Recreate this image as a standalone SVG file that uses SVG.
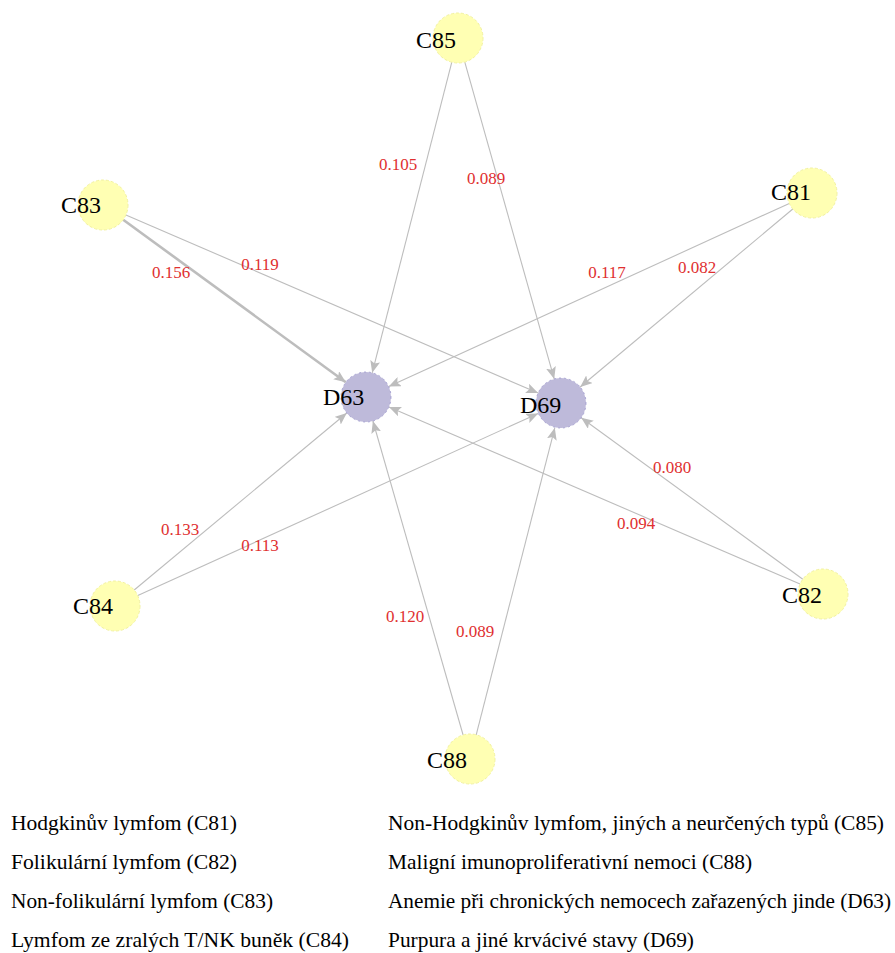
<svg xmlns="http://www.w3.org/2000/svg" width="895" height="953" viewBox="0 0 895 953">
<style>
.e{stroke:#bdbdbd;stroke-width:1.1;fill:none;marker-end:url(#ah)}
.thick{stroke-width:2.6}
.ew{font-family:'Liberation Serif','Times New Roman',serif;font-size:17px;fill:#e03030;text-anchor:middle}
.cn{fill:#ffffb3;stroke:#f2f2a0;stroke-width:1;stroke-dasharray:3 2}
.dn{fill:#bebada;stroke:#9a96cc;stroke-width:0.8;stroke-dasharray:2 3}
.nl{font-family:'Liberation Serif','Times New Roman',serif;font-size:24px;fill:#000}
.lg{font-family:'Liberation Serif','Times New Roman',serif;font-size:21px;fill:#000}
</style>
<defs>
<marker id="ah" markerUnits="userSpaceOnUse" markerWidth="13" markerHeight="10" refX="12" refY="5" orient="auto">
<path d="M0,0 L12,5 L0,10 L2.5,5 Z" fill="#bdbdbd"/>
</marker>
</defs>
<g id="connectors">
<line class="e" x1="451.8" y1="62.2" x2="372.2" y2="372.8"/>
<line class="e" x1="464.8" y1="62.1" x2="554.2" y2="378.9"/>
<line class="e thick" x1="123.2" y1="219.7" x2="345.8" y2="382.3"/>
<line class="e" x1="125.9" y1="214.9" x2="538.1" y2="393.1"/>
<line class="e" x1="789.3" y1="203.4" x2="388.7" y2="386.6"/>
<line class="e" x1="792.8" y1="209.0" x2="580.2" y2="387.0"/>
<line class="e" x1="134.2" y1="590.0" x2="346.8" y2="413.0"/>
<line class="e" x1="137.8" y1="595.6" x2="538.2" y2="413.4"/>
<line class="e" x1="800.0" y1="584.1" x2="389.0" y2="406.9"/>
<line class="e" x1="802.8" y1="579.3" x2="581.2" y2="417.7"/>
<line class="e" x1="463.1" y1="735.0" x2="372.9" y2="421.0"/>
<line class="e" x1="476.2" y1="734.8" x2="554.8" y2="427.8"/>
<text class="ew" x="398" y="170">0.105</text>
<text class="ew" x="486" y="184">0.089</text>
<text class="ew" x="171" y="278">0.156</text>
<text class="ew" x="260" y="270">0.119</text>
<text class="ew" x="607" y="278">0.117</text>
<text class="ew" x="697" y="273">0.082</text>
<text class="ew" x="180" y="535">0.133</text>
<text class="ew" x="260" y="551">0.113</text>
<text class="ew" x="636" y="529">0.094</text>
<text class="ew" x="672" y="473">0.080</text>
<text class="ew" x="405" y="622">0.120</text>
<text class="ew" x="475" y="637">0.089</text>
</g>
<g id="C85"><circle class="cn" cx="458" cy="38" r="25"/><text class="nl" x="416" y="48">C85</text></g>
<g id="C83"><circle class="cn" cx="103" cy="205" r="25"/><text class="nl" x="61" y="213">C83</text></g>
<g id="C81"><circle class="cn" cx="812" cy="193" r="25"/><text class="nl" x="771" y="200">C81</text></g>
<g id="D63"><circle class="dn" cx="366" cy="397" r="25"/><text class="nl" x="323" y="405">D63</text></g>
<g id="D69"><circle class="dn" cx="561" cy="403" r="25"/><text class="nl" x="520" y="413">D69</text></g>
<g id="C84"><circle class="cn" cx="115" cy="606" r="25"/><text class="nl" x="73" y="614">C84</text></g>
<g id="C82"><circle class="cn" cx="823" cy="594" r="25"/><text class="nl" x="782" y="603">C82</text></g>
<g id="C88"><circle class="cn" cx="470" cy="759" r="25"/><text class="nl" x="427" y="768">C88</text></g>
<g id="legend">
<text class="lg" x="11" y="830" textLength="226" lengthAdjust="spacingAndGlyphs">Hodgkinův lymfom (C81)</text>
<text class="lg" x="11" y="869" textLength="226" lengthAdjust="spacingAndGlyphs">Folikulární lymfom (C82)</text>
<text class="lg" x="11" y="908" textLength="262" lengthAdjust="spacingAndGlyphs">Non-folikulární lymfom (C83)</text>
<text class="lg" x="11" y="947" textLength="338" lengthAdjust="spacingAndGlyphs">Lymfom ze zralých T/NK buněk (C84)</text>
<text class="lg" x="388" y="830" textLength="496" lengthAdjust="spacingAndGlyphs">Non-Hodgkinův lymfom, jiných a neurčených typů (C85)</text>
<text class="lg" x="388" y="869" textLength="364" lengthAdjust="spacingAndGlyphs">Maligní  imunoproliferativní nemoci (C88)</text>
<text class="lg" x="388" y="908" textLength="503" lengthAdjust="spacingAndGlyphs">Anemie při chronických nemocech zařazených jinde (D63)</text>
<text class="lg" x="388" y="947" textLength="306" lengthAdjust="spacingAndGlyphs">Purpura a jiné krvácivé stavy (D69)</text>
</g>
</svg>
